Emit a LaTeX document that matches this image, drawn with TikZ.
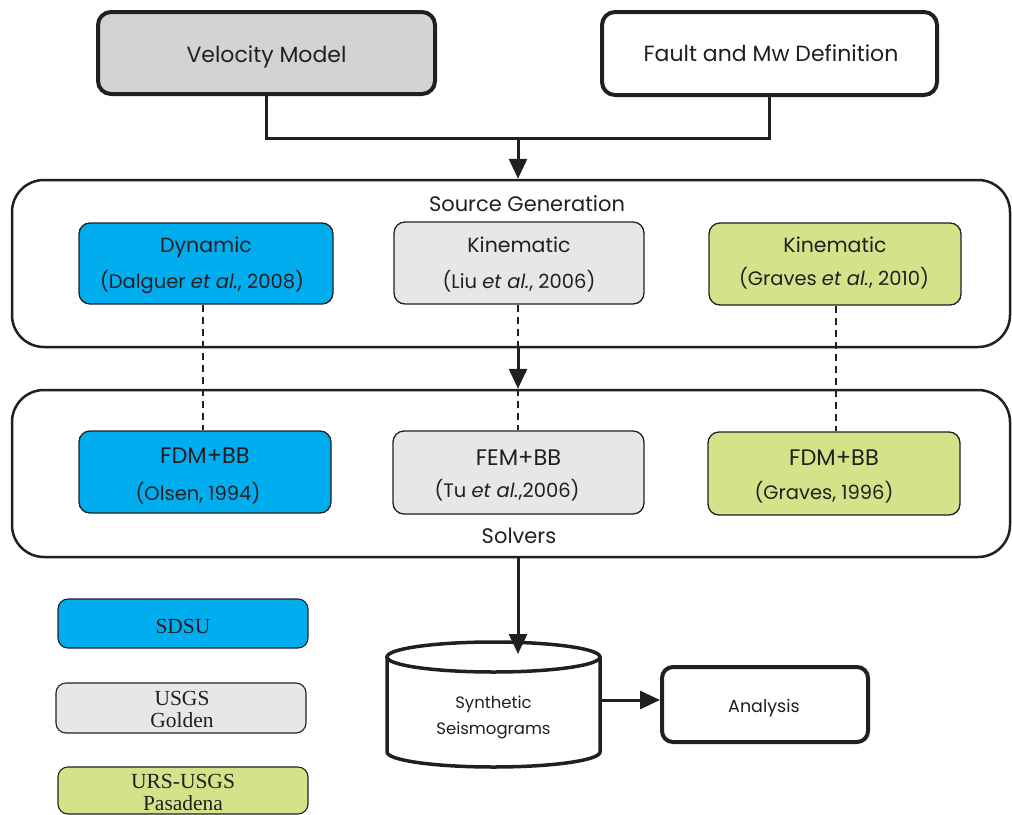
\documentclass[tikz,border=0pt]{standalone}
\usepackage{fontspec}
\setmainfont{Poppins}
\newfontfamily\legendfont{Liberation Serif}
\usetikzlibrary{arrows.meta,calc}
\definecolor{ink}{HTML}{231F20}
\definecolor{cyanbox}{HTML}{00AEEF}
\definecolor{greybox}{HTML}{E6E7E8}
\definecolor{velgrey}{HTML}{D1D3D4}
\definecolor{greenbox}{HTML}{D5E28A}
\tikzset{
  topbox/.style={draw=ink, line width=4pt, rounded corners=13pt, inner sep=0pt},
  container/.style={draw=ink, line width=2.5pt, rounded corners=32pt, inner sep=0pt},
  innerbox/.style={draw=ink, line width=1.3pt, rounded corners=11pt, inner sep=0pt, minimum width=252pt, minimum height=82pt},
  legbox/.style={draw=ink, line width=1.1pt, rounded corners=10pt, inner sep=0pt, minimum width=250pt, minimum height=49pt},
  txt/.style={text=ink, inner sep=0pt, anchor=base},
  title/.style={txt, font=\fontsize{20.5}{24}\selectfont},
  sect/.style={txt, font=\fontsize{21}{25}\selectfont},
  method/.style={txt, font=\fontsize{22.5}{26}\selectfont},
  cite/.style={txt, font=\fontsize{19.5}{23}\selectfont},
  big/.style={txt, font=\fontsize{22}{26}\selectfont},
  cyltext/.style={txt, font=\fontsize{16.5}{20}\selectfont},
  antext/.style={txt, font=\fontsize{17.5}{21}\selectfont},
  legtext/.style={txt, font=\legendfont\fontsize{21.5}{24}\selectfont},
  conn/.style={draw=ink, line width=3pt},
  arr/.style={conn, -{Triangle[length=20pt,width=18pt]}},
  dashlink/.style={draw=ink, line width=1.7pt, dash pattern=on 7pt off 5pt},
}
\begin{document}
\begin{tikzpicture}[x=1pt,y=-1pt]
\useasboundingbox (0,0) rectangle (1012,814);
\begin{scope}
\clip (0,0) rectangle (1012,814);
% top boxes
\node[topbox, fill=velgrey, minimum width=337pt, minimum height=82pt] (vm) at (266.5,53) {};
\node[big] (vmt) at (266.5,62) {Velocity Model};
\node[topbox, fill=white, minimum width=335pt, minimum height=83pt] (fm) at (769.5,53.5) {};
\node[big] (fmt) at (771,61) {Fault and Mw Definition};
% containers
\node[container, minimum width=998pt, minimum height=167pt] (sg) at (511,263.5) {};
\node[sect] (sgl) at (527,211) {Source Generation};
\node[container, minimum width=998pt, minimum height=167pt] (sol) at (511,473.5) {};
\node[sect] (soll) at (519,543) {Solvers};
% junction
\coordinate (j) at (518,138);
\draw[conn] (vm.south) |- (j);
\draw[conn] (fm.south) |- (j);
\draw[arr] (j) -- (j |- sg.north);
% source boxes
\node[innerbox, fill=cyanbox, minimum width=254pt, minimum height=81pt] (dyn) at (206,263.5) {};
\node[title] (dyn1) at (206,252) {Dynamic};
\node[cite] (dyn2) at (202,288) {(Dalguer \textit{et al.}, 2008)};
\node[innerbox, fill=greybox, minimum width=250pt] (liu) at (519,263) {};
\node[title] (liu1) at (519,252) {Kinematic};
\node[cite] (liu2) at (519,288) {(Liu \textit{et al.}, 2006)};
\node[innerbox, fill=greenbox] (grs) at (835,264) {};
\node[title] (grs1) at (835,252) {Kinematic};
\node[cite] (grs2) at (834,285) {(Graves \textit{et al.}, 2010)};
% solver boxes
\node[innerbox, fill=cyanbox] (ols) at (205,472) {};
\node[method] (ols1) at (205,463) {FDM+BB};
\node[cite] (ols2) at (198,500) {(Olsen, 1994)};
\node[innerbox, fill=greybox, minimum width=251pt, minimum height=83pt] (tu) at (518.5,472.5) {};
\node[method] (tu1) at (518.5,465) {FEM+BB};
\node[cite] (tu2) at (507,497) {(Tu \textit{et al.},2006)};
\node[innerbox, fill=greenbox, minimum height=83pt] (grv) at (834,473.5) {};
\node[method] (grv1) at (834,465) {FDM+BB};
\node[cite] (grv2) at (824,499) {(Graves, 1996)};
% dashed links
\coordinate (d1) at (203,0);
\coordinate (d3) at (836,0);
\draw[dashlink] (d1 |- dyn.south) -- (d1 |- ols.north);
\draw[dashlink] (j |- liu.south) -- (j |- tu.north);
\draw[dashlink] (d3 |- grs.south) -- (d3 |- grv.north);
\draw[arr] (j |- sg.south) -- (j |- sol.north);
% cylinder
\draw[ink, line width=3.5pt, fill=white] (387,657) -- (387,752) arc[start angle=180, end angle=0, x radius=106.5, y radius=15] -- (600,657);
\draw[ink, line width=3.5pt] (493.5,657) ellipse [x radius=106.5, y radius=15];
\node[cyltext] (cyl1) at (493.5,708) {Synthetic};
\node[cyltext] (cyl2) at (493.5,734) {Seismograms};
\coordinate (cyltop) at (518,654);
\coordinate (cylright) at (600,700);
\draw[arr] (j |- sol.south) -- (cyltop);
% analysis
\node[topbox, fill=white, minimum width=206pt, minimum height=75pt, rounded corners=11pt] (an) at (765,704.5) {};
\node[antext] (ant) at (764,712) {Analysis};
\draw[arr] (cylright) -- (cylright -| an.west);
% legend
\node[legbox, fill=cyanbox] (l1) at (183,623.5) {};
\node[legtext] (l1t) at (183,633) {SDSU};
\node[legbox, fill=greybox, minimum height=50pt] (l2) at (181,708) {};
\node[legtext] (l2a) at (182,705.5) {USGS};
\node[legtext] (l2b) at (182,727) {Golden};
\node[legbox, fill=greenbox, minimum height=47pt] (l3) at (183,790.5) {};
\node[legtext] (l3a) at (183,788) {URS-USGS};
\node[legtext] (l3b) at (183,810) {Pasadena};
\end{scope}
\end{tikzpicture}
\end{document}
